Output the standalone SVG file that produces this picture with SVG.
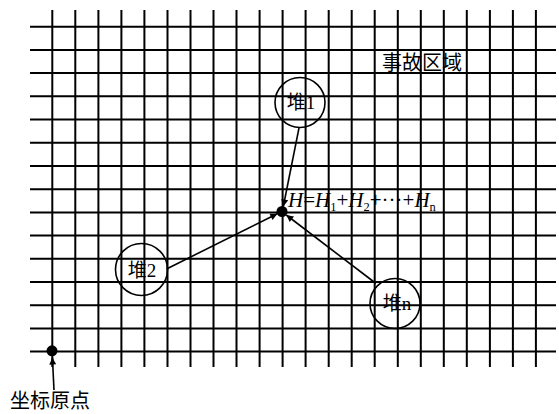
<svg xmlns="http://www.w3.org/2000/svg" width="559" height="414" viewBox="0 0 559 414">
<defs>
<style>
.grid{stroke:#000;stroke-width:2;fill:none}
.node{fill:none;stroke:#000;stroke-width:1.6}
.lbl{font-family:"Liberation Serif","Noto Sans CJK SC",serif;font-size:19px;fill:#000;text-anchor:middle}
.cn{font-family:"Liberation Serif","Noto Sans CJK SC",serif;font-size:20px;fill:#000}
.conn{stroke:#000;stroke-width:1.6;fill:none}
.f{font-family:"Liberation Serif",serif;font-size:21px;fill:#000}
.sub{font-size:12.5px}
</style>
<marker id="arr" viewBox="0 0 10 10" refX="10" refY="5" markerWidth="9" markerHeight="7" markerUnits="userSpaceOnUse" orient="auto">
<path d="M0,0 L10,5 L0,10 z" fill="#000"/>
</marker>
</defs>
<rect width="559" height="414" fill="#fff"/>
<g id="grid">
<path class="grid" d="M30,26.7H556M30,49.9H556M30,73.1H556M30,96.3H556M30,119.5H556M30,142.8H556M30,166H556M30,189.2H556M30,212.4H556M30,235.6H556M30,258.8H556M30,282H556M30,305.2H556M30,328.4H556M30,351.6H556"/>
<path class="grid" d="M52.3,10V367M75.3,10V367M98.4,10V367M121.4,10V367M144.4,10V367M167.5,10V367M190.5,10V367M213.5,10V367M236.5,10V367M259.6,10V367M282.6,10V367M305.6,10V367M328.7,10V367M351.7,10V367M374.7,10V367M397.8,10V367M420.8,10V367M443.8,10V367M466.8,10V367M489.9,10V367M512.9,10V367M535.9,10V367"/>
</g>
<g id="region-label"><text class="cn" x="382" y="70">事故区域</text></g>
<g id="pile1">
<circle class="node" cx="300" cy="102.5" r="25"/>
<text class="lbl" x="301" y="109">堆1</text>
</g>
<g id="pile2">
<circle class="node" cx="141.5" cy="269.5" r="26"/>
<text class="lbl" x="142" y="277">堆2</text>
</g>
<g id="pilen">
<circle class="node" cx="395" cy="303.5" r="25"/>
<text class="lbl" x="397" y="310">堆n</text>
</g>
<g id="center">
<circle cx="282" cy="211.5" r="5.5" fill="#000"/>
<text class="f" x="288" y="207"><tspan font-style="italic">H</tspan>=<tspan font-style="italic">H</tspan><tspan class="sub" dy="4">1</tspan><tspan dy="-4">+</tspan><tspan font-style="italic">H</tspan><tspan class="sub" dy="4">2</tspan><tspan dy="-4">+···+</tspan><tspan font-style="italic">H</tspan><tspan class="sub" dy="4">n</tspan></text>
</g>
<g id="origin">
<circle cx="52" cy="350.8" r="5.5" fill="#000"/>
<text class="cn" x="10" y="408">坐标原点</text>
</g>
<g id="connectors">
<line class="conn" x1="299" y1="128" x2="283.3" y2="206.5" marker-end="url(#arr)"/>
<line class="conn" x1="166.5" y1="269" x2="277.3" y2="213.8" marker-end="url(#arr)"/>
<line class="conn" x1="376" y1="283.5" x2="286.3" y2="215" marker-end="url(#arr)"/>
<line class="conn" x1="54" y1="390" x2="52.4" y2="357.5" marker-end="url(#arr)"/>
</g>
</svg>
